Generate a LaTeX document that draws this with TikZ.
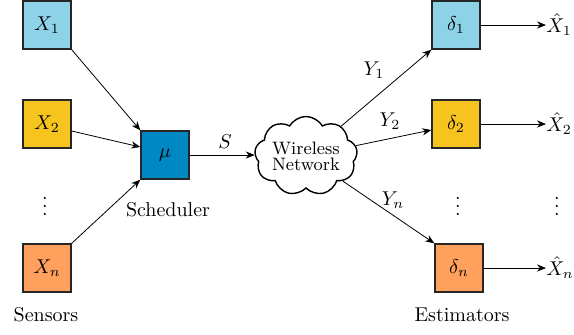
\documentclass[tikz,border=0pt]{standalone}
\usetikzlibrary{arrows.meta,shapes.symbols}
\definecolor{cblue}{HTML}{8ED2E8}
\definecolor{cyel}{HTML}{F7C41F}
\definecolor{corange}{HTML}{FFA05C}
\definecolor{cmu}{HTML}{0088C4}
\begin{document}
\begin{tikzpicture}[x=0.5pt,y=-0.5pt,
  blk/.style={draw=black!85,line width=0.7pt,minimum size=24pt,inner sep=0pt},
  conn/.style={line width=0.4pt,-{Stealth[length=4.5pt,width=3.6pt]}},
  lab/.style={inner sep=0pt}]
\useasboundingbox (0,0) rectangle (574,334);
\node[blk,fill=cblue] (x1) at (47,25) {$X_1$};
\node[blk,fill=cyel] (x2) at (47,124) {$X_2$};
\node[lab] (xd) at (45,200) {$\vdots$};
\node[blk,fill=corange] (xn) at (47,268) {$X_n$};
\node[lab] (sens) at (46,315) {Sensors};
\node[blk,fill=cmu] (mu) at (165,155) {$\mu$};
\node[lab] (sched) at (168,210) {Scheduler};
\node[cloud,draw,line width=0.7pt,cloud puffs=9,cloud puff arc=120,aspect=1.5,
      minimum width=46pt,minimum height=31pt,inner sep=0pt,align=center,
      font=\small] (net) at (306,156) {Wireless\\[-3pt]Network};
\node[blk,fill=cblue] (d1) at (456,25) {$\delta_1$};
\node[blk,fill=cyel] (d2) at (456,124) {$\delta_2$};
\node[lab] (dd) at (458,200) {$\vdots$};
\node[blk,fill=corange] (dn) at (459,268) {$\delta_n$};
\node[lab] (est) at (462,315) {Estimators};
\node[lab,anchor=west] (h1) at (546,25) {$\hat{X}_1$};
\node[lab,anchor=west] (h2) at (546,124) {$\hat{X}_2$};
\node[lab] (hd) at (557,200) {$\vdots$};
\node[lab,anchor=west] (hn) at (546,268) {$\hat{X}_n$};
\draw[conn] (x1.south east) -- (mu.north west);
\draw[conn] ([yshift=-3.5pt]x2.east) -- ([yshift=4pt]mu.west);
\draw[conn] (xn.north east) -- (mu.south west);
\draw[conn] (mu.east) -- (mu.east -| net.west);
\node[lab] (s) at (225,142) {$S$};
\draw[conn] (net) -- (d1.south west);
\draw[conn] (net) -- ([yshift=-3pt]d2.west);
\draw[conn] (net) -- (dn.north west);
\node[lab] (y1) at (374,70) {$Y_1$};
\node[lab] (y2) at (390,121) {$Y_2$};
\node[lab] (yn) at (393,200) {$Y_n$};
\draw[conn] (d1.east) -- (h1.west);
\draw[conn] (d2.east) -- (h2.west);
\draw[conn] (dn.east) -- (hn.west);
\end{tikzpicture}
\end{document}
